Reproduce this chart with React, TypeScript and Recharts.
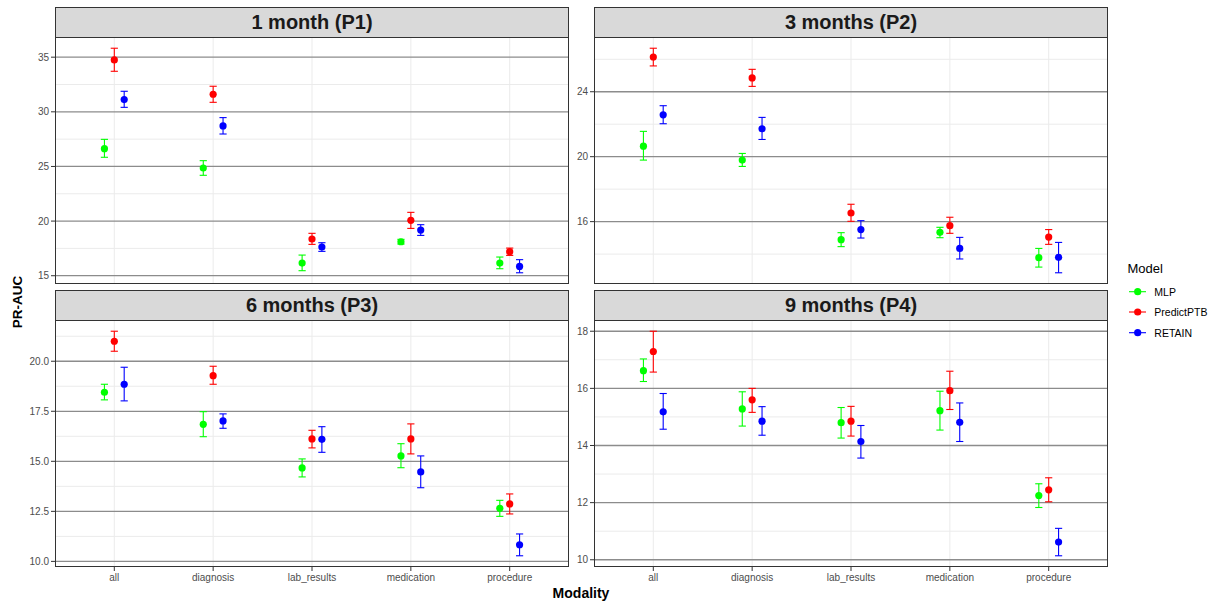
import React from 'react';
import { ScatterChart, Scatter, XAxis, YAxis, ErrorBar, CartesianGrid } from 'recharts';

const modalities = ['all', 'diagnosis', 'lab_results', 'medication', 'procedure'];
const models = ['MLP', 'PredictPTB', 'RETAIN'];
const modelColors = ['#00FF00', '#FF0000', '#0000FF'];
const panelTitles = ['1 month (P1)', '3 months (P2)', '6 months (P3)', '9 months (P4)'];

// [mean, lower, upper] per modality
const p1MLP = [[26.63, 25.84, 27.48], [24.86, 24.19, 25.53], [16.16, 15.46, 16.89], [18.11, 17.9, 18.33], [16.16, 15.64, 16.71]];
const p1PredictPTB = [[34.75, 33.71, 35.82], [31.61, 30.87, 32.34], [18.36, 17.87, 18.88], [20.07, 19.33, 20.8], [17.2, 16.86, 17.53]];
const p1RETAIN = [[31.12, 30.41, 31.88], [28.71, 27.97, 29.47], [17.63, 17.23, 18.02], [19.18, 18.69, 19.67], [15.85, 15.27, 16.47]];

const p2MLP = [[20.65, 19.79, 21.56], [19.79, 19.4, 20.2], [14.89, 14.46, 15.32], [15.34, 15.01, 15.65], [13.78, 13.2, 14.35]];
const p2PredictPTB = [[26.14, 25.59, 26.68], [24.85, 24.33, 25.38], [16.53, 16.02, 17.07], [15.75, 15.28, 16.27], [15.05, 14.6, 15.51]];
const p2RETAIN = [[22.58, 22.03, 23.14], [21.72, 21.06, 22.42], [15.51, 14.99, 16.06], [14.35, 13.7, 15.03], [13.8, 12.85, 14.72]];

const p3MLP = [[18.45, 18.07, 18.85], [16.85, 16.23, 17.48], [14.67, 14.22, 15.12], [15.27, 14.68, 15.88], [12.65, 12.25, 13.05]];
const p3PredictPTB = [[21.0, 20.5, 21.5], [19.28, 18.85, 19.75], [16.12, 15.67, 16.55], [16.12, 15.37, 16.87], [12.87, 12.37, 13.37]];
const p3RETAIN = [[18.85, 18.02, 19.7], [17.02, 16.65, 17.37], [16.1, 15.45, 16.73], [14.47, 13.68, 15.27], [10.83, 10.28, 11.37]];

const p4MLP = [[16.62, 16.24, 17.03], [15.28, 14.68, 15.88], [14.8, 14.26, 15.33], [15.22, 14.54, 15.9], [12.25, 11.83, 12.66]];
const p4PredictPTB = [[17.29, 16.57, 18.0], [15.6, 15.16, 16.0], [14.85, 14.33, 15.37], [15.92, 15.26, 16.6], [12.45, 12.03, 12.87]];
const p4RETAIN = [[15.18, 14.57, 15.82], [14.85, 14.36, 15.36], [14.14, 13.56, 14.7], [14.81, 14.14, 15.49], [10.62, 10.14, 11.1]];

const p1Ticks = [15, 20, 25, 30, 35];
const p2Ticks = [16, 20, 24];
const p3Ticks = [10, 12.5, 15, 17.5, 20];
const p4Ticks = [10, 12, 14, 16, 18];

const FONT = '"Liberation Sans", Arial, Helvetica, sans-serif';
const DODGE = 0.1;
const PLOT_W = 514;
const PLOT_H = 247;
const Y_AXIS_W = 55;
const X_AXIS_H = 24;
const STRIP_H = 30;

const panels = [
  { title: panelTitles[0], series: [p1MLP, p1PredictPTB, p1RETAIN], ticks: p1Ticks, decimals: 0, left: 55, top: 37, showX: false },
  { title: panelTitles[1], series: [p2MLP, p2PredictPTB, p2RETAIN], ticks: p2Ticks, decimals: 0, left: 594, top: 37, showX: false },
  { title: panelTitles[2], series: [p3MLP, p3PredictPTB, p3RETAIN], ticks: p3Ticks, decimals: 1, left: 55, top: 320, showX: true },
  { title: panelTitles[3], series: [p4MLP, p4PredictPTB, p4RETAIN], ticks: p4Ticks, decimals: 0, left: 594, top: 320, showX: true },
];

const catTicks = modalities.map((_, i) => i + 1);

function Panel({ p }: { p: any }) {
  const all: number[][] = p.series.flat();
  const lo = Math.min(...all.map((d) => d[1]));
  const hi = Math.max(...all.map((d) => d[2]));
  const pad = (hi - lo) * 0.05;
  const domain = [lo - pad, hi + pad];
  const step = p.ticks[1] - p.ticks[0];
  const minors = [p.ticks[0] - step / 2, ...p.ticks.map((t: number) => t + step / 2)].filter(
    (v) => v > domain[0] && v < domain[1]
  );
  const makeData = (si: number) =>
    p.series[si].map((d: number[], i: number) => ({
      x: i + 1 + (si - 1) * DODGE,
      y: d[0],
      err: [d[0] - d[1], d[2] - d[0]],
    }));
  const chartLeft = p.left - Y_AXIS_W;
  return (
    <>
      <div
        style={{
          position: 'absolute',
          left: p.left,
          top: p.top - STRIP_H,
          width: PLOT_W,
          height: STRIP_H + 1,
          background: '#d9d9d9',
          border: '1px solid #333333',
          boxSizing: 'border-box',
          display: 'flex',
          alignItems: 'center',
          justifyContent: 'center',
          fontFamily: FONT,
          fontWeight: 'bold',
          fontSize: 20,
          color: '#1a1a1a',
        }}
      >
        {p.title}
      </div>
      <div style={{ position: 'absolute', left: chartLeft, top: p.top }}>
        <ScatterChart
          width={Y_AXIS_W + PLOT_W}
          height={PLOT_H + (p.showX ? X_AXIS_H : 0)}
          margin={{ top: 0, right: 0, bottom: 0, left: 0 }}
        >
          <CartesianGrid horizontalValues={minors} verticalValues={catTicks} stroke="#ebebeb" strokeWidth={1} />
          <CartesianGrid horizontalValues={p.ticks} vertical={false} stroke="#8c8c8c" strokeWidth={1.3} />
          <XAxis
            type="number"
            dataKey="x"
            domain={[0.4, 5.6]}
            ticks={catTicks}
            interval={0}
            allowDataOverflow
            hide={!p.showX}
            height={X_AXIS_H}
            axisLine={false}
            tickLine={{ stroke: '#333333' }}
            tickSize={4}
            tickMargin={3}
            tick={{ fill: '#4d4d4d', fontSize: 10, fontFamily: FONT }}
            tickFormatter={(v: number) => modalities[Math.round(v) - 1]}
          />
          <YAxis
            type="number"
            dataKey="y"
            domain={domain}
            ticks={p.ticks}
            interval={0}
            allowDataOverflow
            width={Y_AXIS_W}
            axisLine={false}
            tickLine={{ stroke: '#333333' }}
            tickSize={4}
            tickMargin={2}
            tick={{ fill: '#4d4d4d', fontSize: 10, fontFamily: FONT }}
            tickFormatter={(v: number) => v.toFixed(p.decimals)}
          />
          {models.map((m, si) => (
            <Scatter
              key={m}
              name={m}
              data={makeData(si)}
              fill={modelColors[si]}
              isAnimationActive={false}
              shape={(props: any) => <circle cx={props.cx} cy={props.cy} r={3.6} fill={modelColors[si]} />}
            >
              <ErrorBar
                dataKey="err"
                direction="y"
                width={3.6}
                stroke={modelColors[si]}
                strokeWidth={1.1}
                isAnimationActive={false}
              />
            </Scatter>
          ))}
        </ScatterChart>
      </div>
      <div
        style={{
          position: 'absolute',
          left: p.left,
          top: p.top,
          width: PLOT_W,
          height: PLOT_H,
          border: '1px solid #333333',
          boxSizing: 'border-box',
          pointerEvents: 'none',
        }}
      />
    </>
  );
}

function Legend() {
  const rows = [291.7, 312, 332.7];
  return (
    <svg style={{ position: 'absolute', left: 0, top: 0 }} width={1224} height={604} pointerEvents="none">
      <text x={1127.5} y={273} fontFamily={FONT} fontSize={13} fill="#000">
        Model
      </text>
      {models.map((m, i) => (
        <g key={m}>
          <line x1={1129} x2={1146} y1={rows[i]} y2={rows[i]} stroke={modelColors[i]} strokeWidth={1.1} />
          <circle cx={1137.7} cy={rows[i]} r={3.6} fill={modelColors[i]} />
          <text x={1154.3} y={rows[i] + 3.8} fontFamily={FONT} fontSize={10.5} fill="#000">
            {m}
          </text>
        </g>
      ))}
      <text
        x={17}
        y={302}
        transform="rotate(-90 17 302)"
        textAnchor="middle"
        dominantBaseline="central"
        fontFamily={FONT}
        fontWeight="bold"
        fontSize={13.5}
        fill="#000"
      >
        PR-AUC
      </text>
      <text x={581} y={597.5} textAnchor="middle" fontFamily={FONT} fontWeight="bold" fontSize={14} fill="#000">
        Modality
      </text>
    </svg>
  );
}

export default function App() {
  return (
    <div
      style={{
        position: 'absolute',
        left: 0,
        top: 0,
        width: 1224,
        height: 604,
        background: '#ffffff',
        overflow: 'hidden',
        fontFamily: FONT,
      }}
    >
      {panels.map((p, i) => (
        <Panel key={i} p={p} />
      ))}
      <Legend />
    </div>
  );
}
